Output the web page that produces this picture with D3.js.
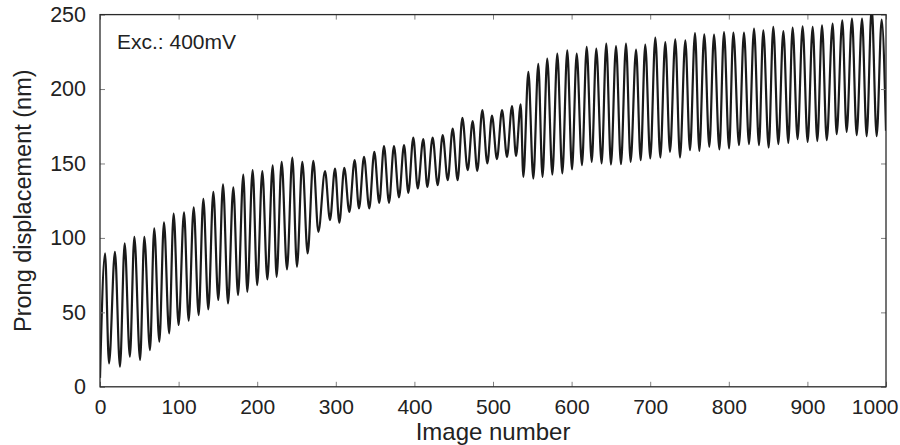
<!DOCTYPE html>
<html>
<head>
<meta charset="utf-8">
<script src="https://cdn.jsdelivr.net/npm/d3@7"></script>
<style>
  html, body { margin: 0; padding: 0; background: #fff; }
  svg { display: block; }
  text { font-family: "Liberation Sans", Arial, Helvetica, sans-serif; fill: #222; }
</style>
</head>
<body>
<svg id="chart" width="900" height="445"></svg>
<script>
// Local extrema (peaks and troughs) of the trace
const imageNumber = [
  0, 6.4, 11.5, 19, 25.4, 31.4, 38, 43.7, 51, 56.4, 63.6, 69, 75.5, 81.4, 88, 93.7,
  100, 106.9, 112.8, 119.2, 125.5, 131.5, 137.8, 144.2, 150.5, 156.5, 162.9, 169.6, 175.6, 182.3, 187.4, 194.2,
  200, 206.5, 212.9, 219.7, 224.7, 231.1, 237.9, 244.7, 250.6, 257.4, 264.2, 271.4, 277.8, 286.3, 292.6, 299,
  304.5, 310.8, 317.2, 324, 329.5, 335.9, 342.6, 349, 355.3, 361.3, 367.7, 374, 380.4, 386.8, 392.3, 398.6,
  404.2, 411.3, 416.4, 423.2, 429.6, 436, 442.4, 448.7, 455, 461, 467.8, 474.1, 480, 486.4, 492.8, 498.7,
  505, 511.5, 517.8, 524.2, 529.3, 535.2, 538.6, 545, 551.3, 557.6, 563, 569, 575.5, 581.8, 588.2, 594.5,
  600.5, 606.5, 613.2, 619.2, 625.6, 631.4, 638.2, 644.1, 650.1, 656.5, 662.8, 669.2, 675.1, 682, 687.9, 693.7,
  700.1, 706.5, 712.9, 719.2, 725.2, 731.9, 737.9, 744.7, 750.6, 757, 762.5, 768.8, 775.2, 781.2, 788, 793.9,
  800.3, 805.8, 813, 819.3, 825.7, 832.1, 838.4, 843.9, 850.7, 856.6, 863, 869.4, 875.7, 881.2, 887.5, 893.9,
  900.3, 906.7, 912.6, 918.6, 924.6, 932.1, 937.2, 944.4, 949.9, 956.7, 962.7, 969.5, 975.4, 981.8, 988.1, 994.5,
  1000
];
const displacementNm = [
  6, 89.6, 15.8, 90.7, 13.5, 96.3, 20.2, 100.7, 18, 100.7, 24.7, 106.4, 30.3, 110.4, 35.9, 116.4,
  41.5, 117.1, 44.4, 120.5, 48.2, 126.2, 52, 130.9, 58.3, 135.9, 56, 133.9, 61.6, 142.6, 63.8, 145.5,
  68.3, 144.8, 72.1, 148.7, 73.9, 151.1, 78.9, 154, 80.6, 151.1, 89.6, 151.8, 104.1, 144.8, 112, 146.6,
  110.2, 147.1, 117.5, 152.2, 119.8, 154.4, 119.8, 157.8, 123.6, 161.6, 123.6, 161.6, 127.2, 162.3, 130.3, 167.4,
  133.2, 166.3, 134.3, 167.4, 135.4, 169, 138.8, 173.5, 138.8, 180.6, 145.5, 178.4, 145, 185.8, 150, 182.2,
  152.9, 185.8, 154.4, 188.5, 155.1, 189.8, 141, 211.5, 139.9, 217, 141, 220.5, 142.6, 223.8, 143.3, 226,
  146, 223.8, 148.9, 228.3, 151.1, 227.2, 150, 230.5, 149.3, 228.9, 149.5, 230.5, 151.1, 226.5, 152.2, 229.9,
  153.4, 234.6, 154, 231.6, 157.8, 233.4, 154, 232.7, 158.9, 237.6, 158.4, 236.8, 161.2, 236.6, 159.4, 238.3,
  160.1, 237.9, 162.3, 237.9, 163, 240.6, 162.3, 239.5, 160.7, 241.7, 163, 239, 163.8, 241.3, 166.3, 242.1,
  164.5, 241.7, 165, 242.8, 165.6, 244, 169.7, 246.2, 171.2, 247.3, 169, 247.3, 168.3, 255, 168.3, 246.6,
  172
];
const xTicks = [0, 100, 200, 300, 400, 500, 600, 700, 800, 900, 1000];
const yTicks = [0, 50, 100, 150, 200, 250];
const xLabel = "Image number";
const yLabel = "Prong displacement (nm)";
const annotation = "Exc.: 400mV";

const svg = d3.select("#chart");
const m = { left: 100, right: 14, top: 14.6, bottom: 58.2 };
const W = 900, H = 445;
const iw = W - m.left - m.right, ih = H - m.top - m.bottom;

const x = d3.scaleLinear().domain([0, 1000]).range([m.left, m.left + iw]);
const y = d3.scaleLinear().domain([0, 250]).range([m.top + ih, m.top]);

svg.append("defs").append("clipPath").attr("id", "plotClip")
  .append("rect").attr("x", m.left).attr("y", m.top).attr("width", iw).attr("height", ih);

const data = imageNumber.map((d, i) => ({ x: d, y: displacementNm[i] }));
const line = d3.line().x(d => x(d.x)).y(d => y(d.y)).curve(d3.curveMonotoneX);

svg.append("path")
  .datum(data)
  .attr("clip-path", "url(#plotClip)")
  .attr("d", line)
  .attr("fill", "none")
  .attr("stroke", "#1a1a1a")
  .attr("stroke-width", 2.2)
  .attr("stroke-linejoin", "round");

// Axes with inward ticks on all four sides
const tickLen = 5;
const bottomAxis = d3.axisBottom(x).tickValues(xTicks).tickSize(-tickLen).tickPadding(12).tickFormat(d3.format("d"));
const topAxis = d3.axisTop(x).tickValues(xTicks).tickSize(-tickLen).tickFormat("");
const leftAxis = d3.axisLeft(y).tickValues(yTicks).tickSize(-tickLen).tickPadding(14).tickFormat(d3.format("d"));
const rightAxis = d3.axisRight(y).tickValues(yTicks).tickSize(-tickLen).tickFormat("");

function styleAxis(g, fs) {
  g.select(".domain").remove();
  g.selectAll(".tick line").attr("stroke", "#808080").attr("stroke-width", 1);
  g.selectAll(".tick text").style("font-size", fs + "px").attr("fill", "#222");
}

const gx = svg.append("g").attr("transform", `translate(0,${m.top + ih})`).call(bottomAxis).call(g => styleAxis(g, 21));
// keep the last label inside the picture, as in the reference
gx.selectAll(".tick text").filter(d => d === 1000).attr("text-anchor", "end").attr("dx", 12);
svg.append("g").attr("transform", `translate(0,${m.top})`).call(topAxis).call(g => styleAxis(g, 21));
svg.append("g").attr("transform", `translate(${m.left},0)`).call(leftAxis).call(g => styleAxis(g, 21.5));
svg.append("g").attr("transform", `translate(${m.left + iw},0)`).call(rightAxis).call(g => styleAxis(g, 21));

// Frame
svg.append("rect")
  .attr("x", m.left).attr("y", m.top).attr("width", iw).attr("height", ih)
  .attr("fill", "none").attr("stroke", "#2a2a2a").attr("stroke-width", 1.3);

// Labels
svg.append("text")
  .attr("x", m.left + iw / 2).attr("y", 439.5)
  .attr("text-anchor", "middle")
  .style("font-size", "24px")
  .text(xLabel);

svg.append("text")
  .attr("transform", `translate(31,${m.top + ih / 2}) rotate(-90)`)
  .attr("text-anchor", "middle")
  .style("font-size", "23.5px")
  .text(yLabel);

svg.append("text")
  .attr("x", 117).attr("y", 49)
  .style("font-size", "21px")
  .text(annotation);
</script>
</body>
</html>
